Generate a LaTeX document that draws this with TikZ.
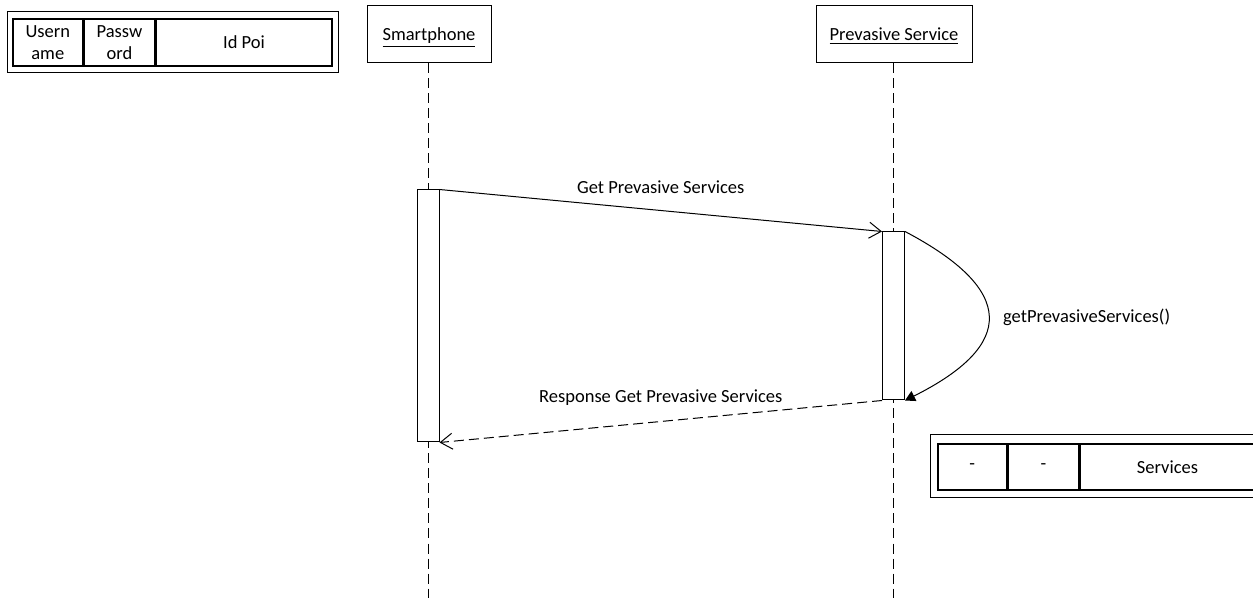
\documentclass[tikz,border=0pt]{standalone}
\usepackage{fontspec}
\setmainfont{Carlito}
\usetikzlibrary{arrows.meta,positioning}

\begin{document}
\begin{tikzpicture}[x=0.5pt,y=-0.5pt,line width=0.5pt,
    font=\fontsize{9.25}{11}\selectfont,
    actor/.style={draw,minimum height=28.5pt,inner sep=0pt,text height=7pt,text depth=1pt},
    act/.style={draw,fill=white,minimum width=11pt,inner sep=0pt},
    life/.style={dash pattern=on 5pt off 2.5pt},
    msg/.style={-{Straight Barb[length=6pt,width=8pt]}},
    ret/.style={msg,dash pattern=on 5pt off 2.5pt},
    self/.style={-{Triangle[length=5pt,width=5.5pt]}},
    cell/.style={draw,line width=0.8pt,minimum height=23.5pt,inner sep=0pt,align=center,baseline},
    node distance=0pt
  ]
    \useasboundingbox (0,0) rectangle (1253,598);
    % actors
    \node[actor,minimum width=62pt] (phone) at (429,34.5) {\underline{Smartphone}};
    \node[actor,minimum width=78pt] (serv) at (894,34.5) {\underline{Prevasive Service}};
    \coordinate (phoneend) at (428,598);
    \coordinate (servend) at (893.5,598);
    \draw[life] (phone.south -| phoneend) -- (phoneend);
    \draw[life] (serv.south -| servend) -- (servend);
    % activations
    \node[act,minimum height=126pt] (phoneact) at (428,316) {};
    \node[act,minimum height=84pt] (servact) at (893.5,316) {};
    % messages
    \draw[msg] (phoneact.north east) -- node[midway,yshift=11.5pt] {Get Prevasive Services} (servact.north west);
    \draw[self] (servact.north east) .. controls (1016,290) and (1016,345) .. (servact.south east);
    \node[anchor=west] (call) at (996,317) {getPrevasiveServices()};
    \draw[ret] (servact.south west) -- node[midway,yshift=12pt] {Response Get Prevasive Services} (phoneact.south east);
    % request frame
    \node[cell,minimum width=35pt,anchor=north west] (user) at (12,18) {Usern\\ame};
    \node[cell,minimum width=35pt,right=of user] (pass) {Passw\\ord};
    \node[cell,minimum width=88pt,right=of pass] (poi) {Id Poi};
    \draw ([shift={(-5,-6)}]user.north west) rectangle ([shift={(6,6)}]poi.south east);
    % response frame
    \node[cell,minimum width=34.5pt,minimum height=23pt,anchor=north west] (dasha) at (937,443) {-};
    \node[cell,minimum width=35pt,minimum height=23pt,right=of dasha] (dashb) {-};
    \node[cell,minimum width=87.5pt,minimum height=23pt,right=of dashb] (svc) {Services};
    \draw ([shift={(-7,-8)}]dasha.north west) rectangle ([shift={(6,7)}]svc.south east);
  \end{tikzpicture}
\end{document}
